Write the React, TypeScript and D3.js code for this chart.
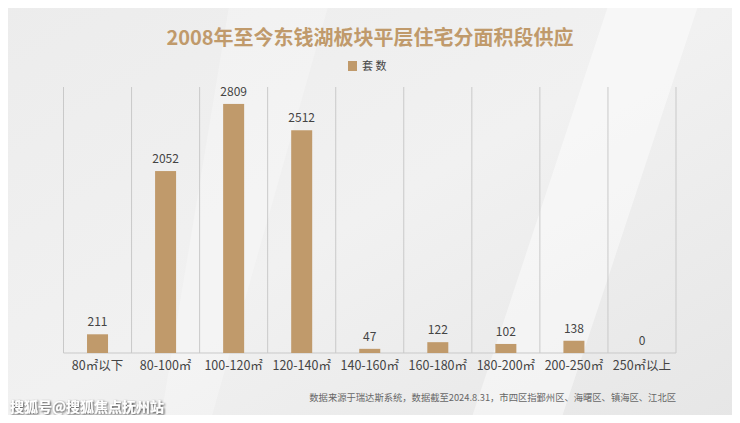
import { useEffect, useRef } from "react";
import * as d3 from "d3";

const categories = [
  "80㎡以下",
  "80-100㎡",
  "100-120㎡",
  "120-140㎡",
  "140-160㎡",
  "160-180㎡",
  "180-200㎡",
  "200-250㎡",
  "250㎡以上",
];
const counts = [211, 2052, 2809, 2512, 47, 122, 102, 138, 0];

const title = "2008年至今东钱湖板块平层住宅分面积段供应";
const seriesName = "套 数";
const footnote =
  "数据来源于瑞达斯系统，数据截至2024.8.31，市四区指鄞州区、海曙区、镇海区、江北区";
const watermark = "搜狐号@搜狐焦点抚州站";

const W = 740;
const H = 423;
const GOLD = "#c09a6b";
const FONT = "'Noto Sans CJK SC', 'Noto Sans', sans-serif";

function App() {
  const svgRef = useRef<SVGSVGElement | null>(null);

  useEffect(() => {
    const svg = d3.select(svgRef.current);
    svg.selectAll("*").remove();

    const margin = { top: 87, right: 64, bottom: 70, left: 63.5 };

    // background
    const defs = svg.append("defs");
    const grad = defs
      .append("linearGradient")
      .attr("id", "bg")
      .attr("x1", "0")
      .attr("y1", "0")
      .attr("x2", "1")
      .attr("y2", "1");
    grad.append("stop").attr("offset", "0%").attr("stop-color", "#ececec");
    grad.append("stop").attr("offset", "50%").attr("stop-color", "#f1f1f1");
    grad.append("stop").attr("offset", "100%").attr("stop-color", "#e6e6e6");

    const shadow = defs.append("filter").attr("id", "wm");
    shadow
      .append("feDropShadow")
      .attr("dx", 1)
      .attr("dy", 1)
      .attr("stdDeviation", 0.8)
      .attr("flood-color", "#222")
      .attr("flood-opacity", 0.9);

    svg.append("rect").attr("width", W).attr("height", H).attr("fill", "url(#bg)");
    svg
      .append("path")
      .attr("d", "M610,0 L700,0 L560,423 L470,423 Z")
      .attr("fill", "#ffffff")
      .attr("opacity", 0.45);
    svg
      .append("path")
      .attr("d", "M230,0 L330,0 L210,423 L160,423 Z")
      .attr("fill", "#ffffff")
      .attr("opacity", 0.25);

    const x = d3
      .scaleBand<string>()
      .domain(categories)
      .range([margin.left, W - margin.right])
      .paddingInner(0)
      .paddingOuter(0);

    const y = d3
      .scaleLinear()
      .domain([0, 3000])
      .range([H - margin.bottom, margin.top]);

    // title
    svg
      .append("text")
      .attr("x", W / 2)
      .attr("y", 45)
      .attr("text-anchor", "middle")
      .attr("font-family", FONT)
      .attr("font-size", 20)
      .attr("font-weight", "bold")
      .attr("fill", GOLD)
      .text(title);

    // legend
    svg
      .append("rect")
      .attr("x", 348)
      .attr("y", 61)
      .attr("width", 9)
      .attr("height", 10)
      .attr("fill", GOLD);
    svg
      .append("text")
      .attr("x", 362)
      .attr("y", 70)
      .attr("font-family", FONT)
      .attr("font-size", 11)
      .attr("fill", "#444")
      .text(seriesName);

    // vertical grid lines at band edges
    const edges = categories.map((c) => x(c)!).concat([x.range()[1]]);
    svg
      .append("g")
      .selectAll("line")
      .data(edges)
      .enter()
      .append("line")
      .attr("x1", (d) => d)
      .attr("x2", (d) => d)
      .attr("y1", y(3000))
      .attr("y2", y(0))
      .attr("stroke", "#c9c9c9")
      .attr("stroke-width", 1);

    // baseline
    svg
      .append("line")
      .attr("x1", x.range()[0])
      .attr("x2", x.range()[1])
      .attr("y1", y(0))
      .attr("y2", y(0))
      .attr("stroke", "#c9c9c9");

    const barW = 21;
    const data = categories.map((c, i) => ({ c, v: counts[i] }));

    svg
      .append("g")
      .selectAll("rect")
      .data(data)
      .enter()
      .append("rect")
      .attr("x", (d) => x(d.c)! + x.bandwidth() / 2 - barW / 2)
      .attr("y", (d) => y(d.v))
      .attr("width", barW)
      .attr("height", (d) => y(0) - y(d.v))
      .attr("fill", GOLD);

    // value labels
    svg
      .append("g")
      .selectAll("text")
      .data(data)
      .enter()
      .append("text")
      .attr("x", (d) => x(d.c)! + x.bandwidth() / 2)
      .attr("y", (d) => y(d.v) - 8)
      .attr("text-anchor", "middle")
      .attr("font-family", FONT)
      .attr("font-size", 12)
      .attr("fill", "#444")
      .text((d) => d.v);

    // category labels
    svg
      .append("g")
      .selectAll("text")
      .data(categories)
      .enter()
      .append("text")
      .attr("x", (d) => x(d)! + x.bandwidth() / 2)
      .attr("y", y(0) + 17)
      .attr("text-anchor", "middle")
      .attr("font-family", FONT)
      .attr("font-size", 12.5)
      .attr("fill", "#444")
      .text((d) => d);

    // footnote
    svg
      .append("text")
      .attr("x", 676)
      .attr("y", 401)
      .attr("text-anchor", "end")
      .attr("font-family", FONT)
      .attr("font-size", 9.3)
      .attr("fill", "#666")
      .text(footnote);

    // watermark
    svg
      .append("text")
      .attr("x", 10)
      .attr("y", 412)
      .attr("font-family", FONT)
      .attr("font-size", 14)
      .attr("font-weight", "bold")
      .attr("fill", "#ffffff")
      .attr("filter", "url(#wm)")
      .text(watermark);
  }, []);

  return (
    <div style={{ margin: -8 }}>
      <svg ref={svgRef} width={W} height={H} style={{ display: "block" }}></svg>
    </div>
  );
}

export default App;
